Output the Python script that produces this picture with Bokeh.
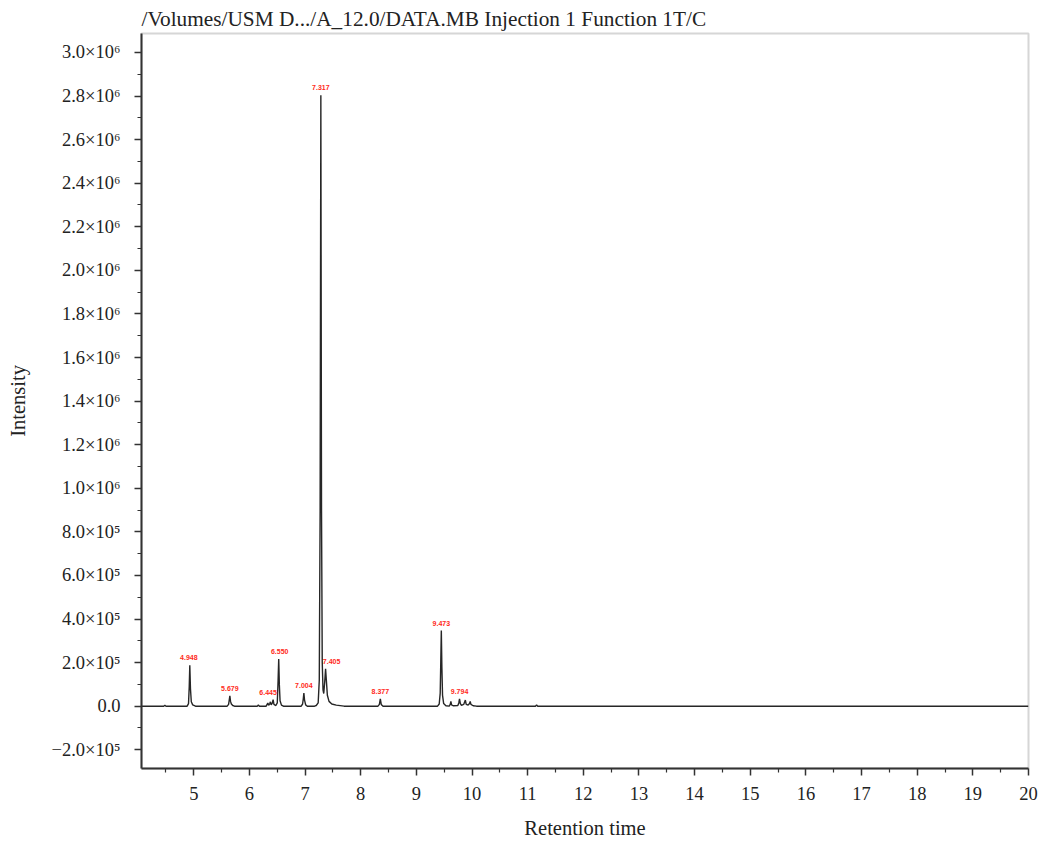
from bokeh.plotting import figure
from bokeh.models import FixedTicker, Range1d, ColumnDataSource
from bokeh.core.properties import value
from bokeh.embed import file_html
from bokeh.resources import INLINE

# Chromatogram trace vertices (retention time in min, intensity)
rt = [4.06, 4.46, 4.48, 4.50, 4.88, 4.905, 4.918, 4.928, 4.94, 4.955, 4.98, 5.03,
      5.60, 5.625, 5.635, 5.648, 5.66, 5.675, 5.70, 5.73,
      6.14, 6.16, 6.18, 6.30, 6.32, 6.33, 6.345, 6.365, 6.377, 6.39, 6.41, 6.425, 6.44, 6.475,
      6.50, 6.515, 6.526, 6.537, 6.55, 6.575, 6.61,
      6.93, 6.955, 6.968, 6.978, 6.99, 7.01, 7.04,
      7.17, 7.20, 7.235, 7.255, 7.27, 7.283, 7.295, 7.308, 7.322, 7.335, 7.352, 7.368, 7.383,
      7.40, 7.43, 7.48, 7.56, 7.70,
      8.31, 8.335, 8.352, 8.368, 8.40,
      9.38, 9.41, 9.428, 9.438, 9.448, 9.458, 9.47, 9.49, 9.53,
      9.59, 9.608, 9.62, 9.632, 9.66, 9.745, 9.762, 9.775, 9.79, 9.81, 9.85, 9.88, 9.895, 9.93,
      9.955, 9.967, 9.98, 10.02, 10.08,
      11.14, 11.16, 11.18, 20.0]
intensity = [0, 0, 4000, 0, 0, 12000, 90000, 188000, 80000, 20000, 6000, 0,
             0, 8000, 25000, 47000, 22000, 10000, 3000, 0,
             0, 5000, 0, 0, 9000, 15000, 4000, 12000, 20000, 6000, 14000, 30000, 8000, 3000,
             15000, 120000, 216000, 100000, 25000, 5000, 0,
             0, 10000, 35000, 60000, 28000, 6000, 0,
             0, 3000, 15000, 120000, 900000, 2804000, 900000, 200000, 75000, 58000, 110000, 171000, 115000,
             50000, 22000, 10000, 5000, 0,
             0, 8000, 33000, 8000, 0,
             0, 10000, 60000, 200000, 347000, 180000, 50000, 12000, 2000,
             0, 8000, 22000, 6000, 2000, 3000, 15000, 34000, 12000, 4000, 8000, 28000, 8000, 5000,
             12000, 22000, 8000, 2000, 0,
             0, 6000, 0, 0]

# Peak annotations
label_text = ["4.948", "5.679", "6.445", "6.550", "7.004", "7.317", "7.405", "8.377", "9.473", "9.794"]
label_rt = [4.928, 5.648, 6.425, 6.526, 6.978, 7.283, 7.368, 8.352, 9.448, 9.775]
label_height = [188000, 47000, 30000, 216000, 60000, 2804000, 171000, 33000, 347000, 34000]
label_dx = [-1, 0, -5, 1, 0, 0, 6, 0, 0, 0]

# Axis ticks
x_ticks = [5, 6, 7, 8, 9, 10, 11, 12, 13, 14, 15, 16, 17, 18, 19, 20]
x_minor = [4.5, 5.5, 6.5, 7.5, 8.5, 9.5, 10.5, 11.5, 12.5, 13.5, 14.5, 15.5, 16.5, 17.5, 18.5, 19.5]
y_ticks = [-200000, 0, 200000, 400000, 600000, 800000, 1000000, 1200000, 1400000, 1600000,
           1800000, 2000000, 2200000, 2400000, 2600000, 2800000, 3000000]
y_tick_labels = ["\u22122.0\u00d710\u2075", "0.0", "2.0\u00d710\u2075", "4.0\u00d710\u2075", "6.0\u00d710\u2075",
                 "8.0\u00d710\u2075", "1.0\u00d710\u2076", "1.2\u00d710\u2076", "1.4\u00d710\u2076",
                 "1.6\u00d710\u2076", "1.8\u00d710\u2076", "2.0\u00d710\u2076", "2.2\u00d710\u2076",
                 "2.4\u00d710\u2076", "2.6\u00d710\u2076", "2.8\u00d710\u2076", "3.0\u00d710\u2076"]
y_minor = [-300000, -100000, 100000, 300000, 500000, 700000, 900000, 1100000, 1300000, 1500000,
           1700000, 1900000, 2100000, 2300000, 2500000, 2700000, 2900000]

title_text = "/Volumes/USM D.../A_12.0/DATA.MB Injection 1 Function 1T/C"
SERIF = "Liberation Serif"

p = figure(width=1041, height=843, output_backend="svg", toolbar_location=None,
           x_range=Range1d(4.06, 20.0), y_range=Range1d(-286000, 3087000),
           min_border_left=141, min_border_right=13, min_border_top=33, min_border_bottom=75,
           title=title_text)

p.title.text_font = SERIF
p.title.text_font_size = "21.3px"
p.title.text_font_style = "normal"
p.title.text_color = "#222222"
p.title.align = "left"
p.title.standoff = 5

p.background_fill_color = "white"
p.border_fill_color = "white"
p.outline_line_color = "#d6d6d6"
p.outline_line_width = 2
p.xgrid.visible = False
p.ygrid.visible = False

p.line(rt, intensity, line_color="#262626", line_width=1.4)

src = ColumnDataSource(dict(x=label_rt, y=label_height, t=label_text, dx=label_dx))
p.text(x="x", y="y", text="t", source=src, x_offset="dx", y_offset=-5,
       text_color="#ff2a1a", text_font=value("Liberation Sans"), text_font_size="7px",
       text_font_style="bold", text_align="center", text_baseline="bottom")

for ax in (p.xaxis[0], p.yaxis[0]):
    ax.axis_line_color = "#333333"
    ax.axis_line_width = 2
    ax.major_tick_line_color = "#333333"
    ax.major_tick_line_width = 1.5
    ax.minor_tick_line_color = "#333333"
    ax.minor_tick_line_width = 1.2
    ax.major_tick_in = 0
    ax.minor_tick_in = 0
    ax.major_label_text_font = SERIF
    ax.major_label_text_font_size = "18.5px"
    ax.major_label_text_color = "#222222"
    ax.axis_label_text_font = SERIF
    ax.axis_label_text_font_size = "20.5px"
    ax.axis_label_text_font_style = "normal"
    ax.axis_label_text_color = "#222222"

p.xaxis.ticker = FixedTicker(ticks=x_ticks, minor_ticks=x_minor)
p.xaxis.major_tick_out = 7
p.xaxis.minor_tick_out = 4
p.xaxis.major_label_standoff = 11
p.xaxis.axis_label = "Retention time"
p.xaxis.axis_label_standoff = 14

p.yaxis.ticker = FixedTicker(ticks=y_ticks, minor_ticks=y_minor)
p.yaxis.major_label_overrides = {t: s for t, s in zip(y_ticks, y_tick_labels)}
p.yaxis.major_tick_out = 7
p.yaxis.minor_tick_out = 4
p.yaxis.major_label_standoff = 14
p.yaxis.axis_label = "Intensity"
p.yaxis.axis_label_standoff = 20

open("out.html", "w").write(file_html(p, INLINE))
